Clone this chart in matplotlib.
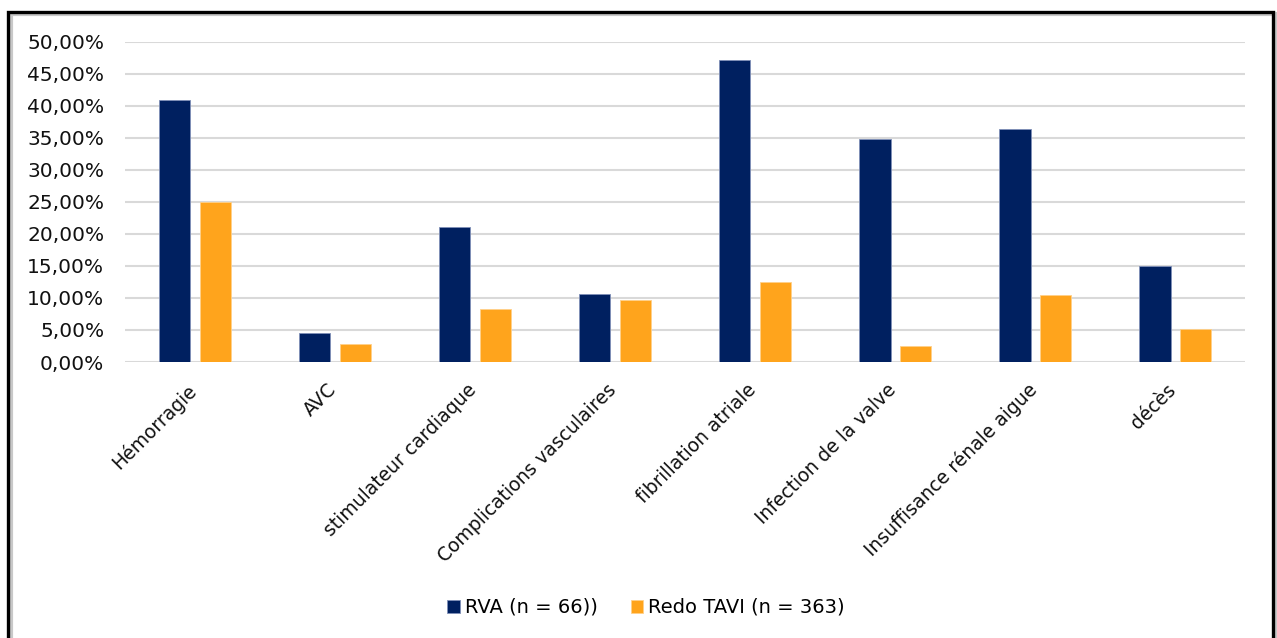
import numpy as np
import matplotlib
matplotlib.use("Agg")
import matplotlib.pyplot as plt
from matplotlib.patches import Rectangle
from matplotlib.ticker import FuncFormatter

plt.rcParams['font.family'] = ['DejaVu Sans']

categories = ["Hémorragie", "AVC", "stimulateur cardiaque", "Complications vasculaires",
              "fibrillation atriale", "Infection de la valve", "Insuffisance rénale aigue", "décès"]
rva = [40.9, 4.6, 21.1, 10.6, 47.2, 34.8, 36.4, 15.0]
redo = [25.0, 2.8, 8.3, 9.7, 12.5, 2.5, 10.5, 5.2]
series_names = ["RVA (n = 66))", "Redo TAVI (n = 363)"]

fig = plt.figure(figsize=(12.77, 6.38), dpi=100)
ax = fig.add_axes([0.0979, 0.4326, 0.8771, 0.5016])

# frame around the whole chart (bottom edge falls outside the picture)
fig.patches.append(Rectangle((0.0085, -0.05), 0.990, 1.028, transform=fig.transFigure,
                             fill=False, edgecolor="#c8c8c8", linewidth=3, zorder=0))
fig.patches.append(Rectangle((0.0065, -0.05), 0.990, 1.031, transform=fig.transFigure,
                             fill=False, edgecolor="black", linewidth=2.4, zorder=1))

x = np.arange(len(categories))
w = 0.225
ax.bar(x - 0.145, rva, w, color="#002060", edgecolor="#8090b8", linewidth=0.6,
       label=series_names[0], zorder=3)
ax.bar(x + 0.145, redo, w, color="#FFA41C", edgecolor="#ffd08a", linewidth=0.6,
       label=series_names[1], zorder=3)

ax.set_xlim(-0.5, len(categories) - 0.5)
ax.set_ylim(0, 50)
ax.set_yticks(np.arange(0, 51, 5))
ax.yaxis.set_major_formatter(FuncFormatter(lambda v, p: f"{v:.2f}%".replace(".", ",")))
ax.grid(axis="y", color="#d9d9d9", linewidth=1.5, zorder=0)
ax.set_axisbelow(True)
for s in ax.spines.values():
    s.set_visible(False)
ax.tick_params(axis="y", length=0, pad=15, labelsize=14.5, colors="#111111")
ax.tick_params(axis="x", length=0, pad=13)
ax.set_xticks(x - 0.06)
ax.set_xticklabels(categories, rotation=45, ha="right", rotation_mode="anchor",
                   fontsize=13.5, color="#111111")

leg = fig.legend(loc="center", bbox_to_anchor=(0.506, 0.048), ncol=2, frameon=False,
                 fontsize=14, handlelength=0.65, handleheight=0.65, handletextpad=0.25,
                 columnspacing=1.7)

fig.savefig("out.png", dpi=100)
